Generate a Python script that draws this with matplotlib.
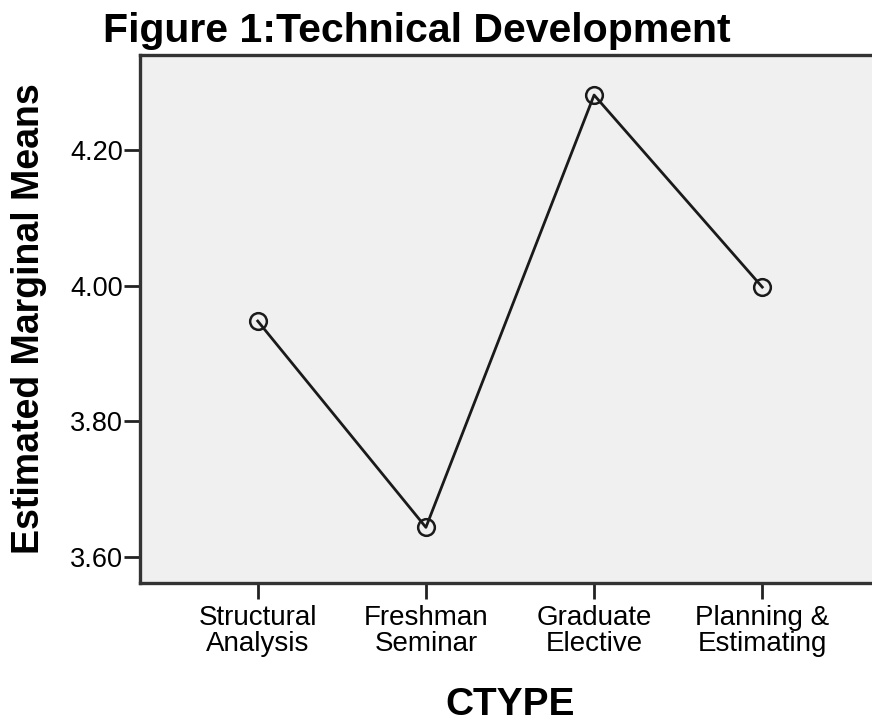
import matplotlib
matplotlib.use('Agg')
import matplotlib.pyplot as plt

plt.rcParams['font.family'] = ['Liberation Sans', 'DejaVu Sans']

categories = ['Structural\nAnalysis', 'Freshman\nSeminar', 'Graduate\nElective', 'Planning &\nEstimating']
means = [3.948, 3.644, 4.281, 3.998]
yticks = [3.60, 3.80, 4.00, 4.20]

fig = plt.figure(figsize=(8.72, 7.22), dpi=100)
ax = fig.add_axes([140 / 872, 139 / 722, 740 / 872, 528 / 722])
ax.set_facecolor('#f0f0f0')

x = list(range(len(categories)))
ax.plot(x, means, color='#1a1a1a', linewidth=2.0, marker='o', markersize=12,
        markerfacecolor='none', markeredgecolor='#1a1a1a', markeredgewidth=1.8)

ax.set_xlim(-0.7, 3.7)
ax.set_ylim(3.562, 4.34)
ax.set_xticks(x)
ax.set_xticklabels(categories, fontsize=20, linespacing=1.02)
ax.set_yticks(yticks)
ax.set_yticklabels(['%.2f' % v for v in yticks], fontsize=19.5)

ax.spines['right'].set_visible(False)
for side in ['left', 'top', 'bottom']:
    ax.spines[side].set_linewidth(2.4)
    ax.spines[side].set_color('#333333')
ax.tick_params(axis='y', direction='out', length=11.5, width=2, color='#222222', pad=1)
ax.tick_params(axis='x', direction='out', length=11.5, width=2, color='#222222', pad=4)

ax.set_xlabel('CTYPE', fontsize=28, fontweight='bold', labelpad=22)
ax.set_ylabel('Estimated Marginal Means', fontsize=27, fontweight='bold', labelpad=16)
fig.text(103 / 872, 1 - 42 / 722, 'Figure 1:Technical Development', fontsize=29.5,
         fontweight='bold', ha='left', va='baseline')

fig.savefig('out.png', dpi=100)
